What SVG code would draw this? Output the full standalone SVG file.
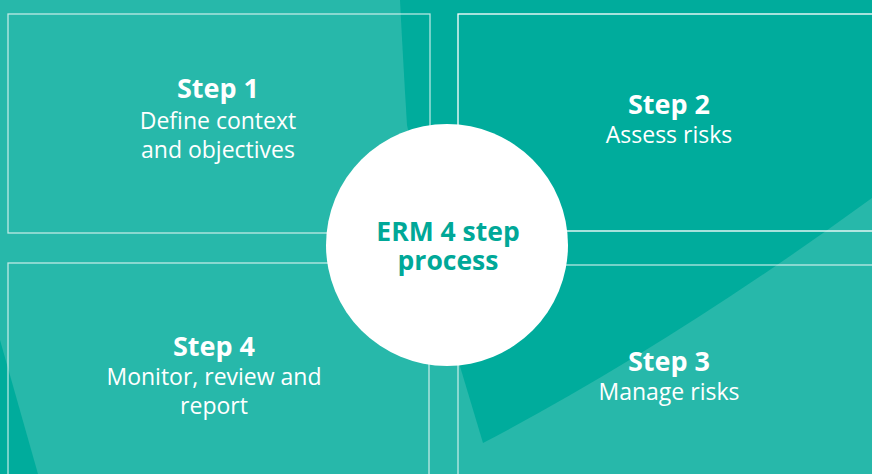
<svg xmlns="http://www.w3.org/2000/svg" width="872" height="474" viewBox="0 0 872 474">
  <style>
    .box { fill: none; stroke: #ffffff; stroke-width: 1.3; }
    .pale { stroke-opacity: 0.7; }
    .head { font-family: "Open Sans", "Noto Sans", "Liberation Sans", sans-serif; font-weight: 700; font-size: 27px; fill: #ffffff; text-anchor: middle; }
    .body { font-family: "Open Sans", "Noto Sans", "Liberation Sans", sans-serif; font-weight: 400; font-size: 23px; fill: #ffffff; text-anchor: middle; }
    .hub { font-family: "Open Sans", "Noto Sans", "Liberation Sans", sans-serif; font-weight: 700; font-size: 26.5px; fill: #00a898; text-anchor: middle; }
  </style>
  <g id="background">
    <rect x="0" y="0" width="872" height="474" fill="#27b8aa"/>
    <path d="M400,0 L872,0 L872,198 Q670,345 483,443 L459,363 L407,125 Q403,60 400,0 Z" fill="#00ac9c"/>
    <path d="M0,340 L38,474 L0,474 Z" fill="#00ac9c"/>
  </g>
  <g id="connectors"></g>
  <g id="step1">
    <rect class="box pale" x="8" y="14" width="422" height="219"/>
    <text class="head" x="218" y="98">Step 1</text>
    <text class="body" x="218" y="129">Define context</text>
    <text class="body" x="218" y="158">and objectives</text>
  </g>
  <g id="step2">
    <rect class="box" x="458" y="14" width="430" height="217"/>
    <text class="head" x="669" y="114">Step 2</text>
    <text class="body" x="669" y="143">Assess risks</text>
  </g>
  <g id="step4">
    <rect class="box pale" x="8" y="263" width="421" height="230"/>
    <text class="head" x="214" y="356">Step 4</text>
    <text class="body" x="214" y="385">Monitor, review and</text>
    <text class="body" x="214" y="414">report</text>
  </g>
  <g id="step3">
    <rect class="box pale" x="458" y="265" width="430" height="230"/>
    <text class="head" x="669" y="371">Step 3</text>
    <text class="body" x="669" y="400">Manage risks</text>
  </g>
  <g id="hub">
    <circle cx="447" cy="245" r="121" fill="#ffffff"/>
    <text class="hub" x="448" y="241">ERM 4 step</text>
    <text class="hub" x="448" y="270">process</text>
  </g>
</svg>
